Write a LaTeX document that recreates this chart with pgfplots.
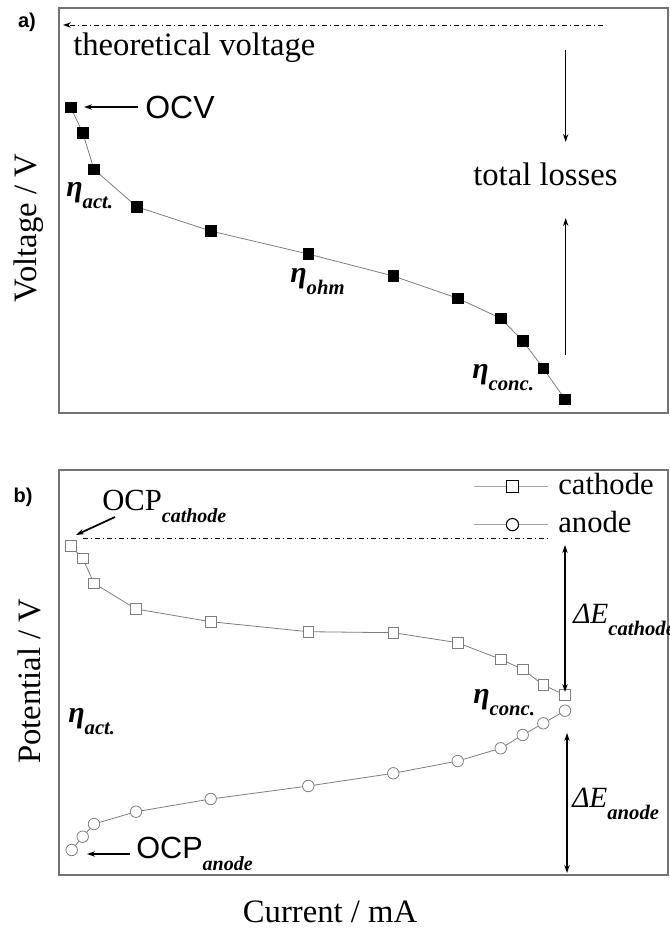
\documentclass[border=0pt]{standalone}
\usepackage{pgfplots}
\pgfplotsset{compat=1.18}
\usepackage{fontspec}
\setmainfont{Liberation Serif}
\newfontfamily\arial{Liberation Sans}
\usetikzlibrary{arrows.meta}

\definecolor{frame}{RGB}{115,115,115}
\definecolor{curve}{RGB}{125,125,125}

\newcommand{\fs}[1]{\fontsize{#1}{#1}\selectfont}
\newcommand{\sub}[1]{\raisebox{-9pt}{\fs{15.5}\bfseries\itshape #1}}
\newcommand{\eeta}[1]{{\fs{22.5}\bfseries\itshape η}\sub{#1}}

% both panels share the same box; units are arbitrary (no ticks)
\pgfplotsset{panel/.style={
    scale only axis, width=456.75pt, height=303.75pt,
    xmin=0, xmax=609, ymin=0, ymax=405,
    xtick=\empty, ytick=\empty,
    axis line style={draw=frame, line width=1.1pt},
    clip=false, anchor=south west}}

\begin{document}
\begin{tikzpicture}
\useasboundingbox (0,0) rectangle (502.5pt,-699pt);

% a) cell voltage
\begin{axis}[panel, at={(44.25pt,-309.75pt)}]
\addplot[curve, line width=0.6pt, mark=square*, mark size=3.9pt,
    mark options={black, fill=black, solid}] table {
x y
11.7 305.7
23.7 280.3
35 243.7
77.7 206.3
151.7 182
249.3 159
334.3 137
398.7 114.7
441.7 94.7
463.7 72.3
484.3 44.7
506 13.7
};
\end{axis}

% b) electrode potentials
\begin{axis}[panel, at={(44.25pt,-656.25pt)},
    legend image code/.code={\draw[#1, mark repeat=2, mark phase=2]
        plot coordinates {(0pt,0pt) (29pt,0pt) (56pt,0pt)};},
    legend style={at={(axis cs:414,402)}, anchor=north west, draw=none,
        fill=none, font=\fs{23}, row sep=8.5pt, inner sep=0pt,
        nodes={inner sep=0pt, text height=16pt, text depth=4pt}},
    legend cell align=left]
\addplot[curve, line width=0.6pt, mark=square*, mark size=4pt,
    mark options={draw=curve, fill=white, solid}, forget plot] table {
x y
11.7 329
23.7 316.7
35 291.7
77 266
151.7 253.3
249.3 243.3
334.3 242.3
398.7 232.3
441.7 215.7
463.7 205.7
484.3 190
506 180
};
\addplot[curve, line width=0.6pt, mark=*, mark size=4.3pt,
    mark options={draw=curve, fill=white, solid}, forget plot] table {
x y
12.7 25
23.7 38.3
35 51
77 63.3
151.7 76
249.3 89
334.3 101.7
398.7 114
441.7 126.7
463.7 140
484.3 151.7
506 164.3
};
\addlegendimage{curve!70, line width=0.8pt, mark=square*, mark size=4.6pt,
    mark options={black, fill=white, line width=0.8pt}}
\addlegendentry{\hspace{7pt}cathode}
\addlegendimage{curve!70, line width=0.8pt, mark=*, mark size=4.6pt,
    mark options={black, fill=white, line width=0.8pt}}
\addlegendentry{\hspace{7pt}anode}
\end{axis}

% annotations, in pixel units of the page
\begin{scope}[x=0.75pt, y=-0.75pt, >={Stealth[length=6pt,width=4pt]}]
\tikzset{dd/.style={line width=0.6pt, dash pattern=on 4pt off 2pt on 1pt off 2pt}}
% panel a
\node[font=\arial\bfseries\fs{15}] at (27,22) {a)};
\node[rotate=90, font=\fs{24.5}] at (29,228) {Voltage / V};
\draw[dd, ->] (603,25) -- (63,25);
\node[anchor=base west, inner sep=0pt, font=\fs{24.5}] at (73,55) {theoretical voltage};
\draw[->, line width=1.3pt] (138,107) -- (84,107);
\node[anchor=west, inner sep=0pt, font=\arial\fs{24}] at (145,107) {OCV};
\node[anchor=base west, inner sep=0pt] at (66,196) {\eeta{act.}};
\node[anchor=base west, inner sep=0pt] at (290,282) {\eeta{ohm}};
\node[anchor=base west, inner sep=0pt] at (472,378) {\eeta{conc.}};
\node[anchor=base west, inner sep=0pt, font=\fs{24.5}] at (473,185) {total losses};
\draw[->, line width=0.8pt] (565.7,50) -- (565.7,142);
\draw[->, line width=0.8pt] (565.7,355) -- (565.7,218);
% panel b
\node[font=\arial\bfseries\fs{15}] at (23,497) {b)};
\node[rotate=90, font=\fs{24.5}] at (29,681) {Potential / V};
\node[anchor=base, inner sep=0pt, font=\fs{24.5}] at (330,922) {Current / mA};
\node[anchor=base west, inner sep=0pt] at (102,510)
    {\fs{23}OCP\raisebox{-9pt}{\fs{15}\bfseries\itshape cathode}};
\draw[->, line width=1.3pt] (115,517) -- (76,535);
\draw[dd] (83,538.5) -- (551,538.5);
\draw[<->, line width=0.8pt] (565,545) -- (565,692);
\node[anchor=base west, inner sep=0pt] at (573,623)
    {{\fs{22}\itshape ΔE}\sub{cathode}};
\node[anchor=base west, inner sep=0pt] at (473,703) {\eeta{conc.}};
\node[anchor=base west, inner sep=0pt] at (68,722) {\eeta{act.}};
\draw[<->, line width=0.8pt] (567,733) -- (567,873);
\node[anchor=base west, inner sep=0pt] at (572,807)
    {{\fs{22}\itshape ΔE}\sub{anode}};
\draw[->, line width=1.3pt] (130,854) -- (87,854);
\node[anchor=base west, inner sep=0pt] at (136,858)
    {{\arial\fs{23}OCP}\raisebox{-9pt}{\fs{15}\bfseries\itshape anode}};
\end{scope}
\end{tikzpicture}
\end{document}
